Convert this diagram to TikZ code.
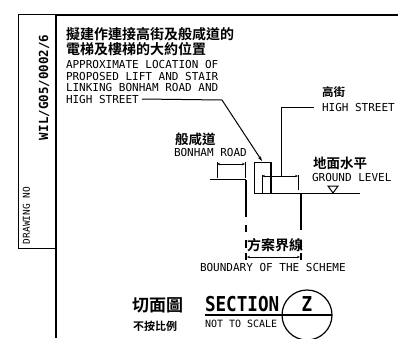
\documentclass[tikz,border=0pt]{standalone}
\usepackage{fontspec}
\setmainfont{DejaVu Sans Mono}
\newfontfamily\titlefont[FakeStretch=0.86]{DejaVu Sans Mono Bold}
\newfontfamily\cjk{Noto Sans CJK TC Bold}
\usetikzlibrary{positioning,arrows.meta}

\begin{document}
\begin{tikzpicture}[
        x=1pt, y=-1pt,
        every node/.style={inner sep=0pt, outer sep=0pt, black},
        latin/.style={anchor=west, font=\fontsize{11}{11}\selectfont},
        hanzi/.style={anchor=west, font=\cjk\fontsize{#1}{#1}\selectfont},
        hanzi/.default=14,
        thinline/.style={line width=1pt},
        frameline/.style={line width=2pt},
        wall/.style={line width=2.6pt},
        dimline/.style={line width=1pt, {Stealth[length=3pt,width=2.4pt]}-{Stealth[length=3pt,width=2.4pt]}}
    ]
        \useasboundingbox (0,0) rectangle (398,338);

        % sheet frame
        \coordinate (topleft) at (18,14.5);
        \coordinate (frametop) at (55.5,14.5);
        \coordinate (framebot) at (55.5,338);
        \coordinate (topright) at (398,14.5);
        \coordinate (boxbot) at (55.5,248);
        \coordinate (boxbotleft) at (18,248);
        \draw[frameline] (framebot) -- (frametop) -- (topright);
        \draw[thinline] (frametop) -- (topleft) -- (boxbotleft) -- (boxbot);
        \node[rotate=90, anchor=west, font=\fontsize{12.5}{12.5}\selectfont\bfseries] (drawingref) at (44,140) {WIL/G05/0002/6};
        \node[rotate=90, anchor=west, font=\fontsize{9.5}{9.5}\selectfont] (drawingno) at (26.5,244) {DRAWING NO};

        % note
        \node[hanzi] (noteA) at (66,34.5) {擬建作連接高街及般咸道的};
        \node[hanzi] (noteB) at (66,49.5) {電梯及樓梯的大約位置};
        \node[latin] (lineA) at (66,64) {APPROXIMATE LOCATION OF};
        \node[latin] (lineB) at (66,76) {PROPOSED LIFT AND STAIR};
        \node[latin] (lineC) at (66,87.5) {LINKING BONHAM ROAD AND};
        \node[latin] (lineD) at (66,99) {HIGH STREET};

        % lift box
        \coordinate (boxNW) at (254,162);
        \coordinate (boxNE) at (271,162);
        \coordinate (boxSW) at (254,193);
        \coordinate (boxSE) at (271,193);
        \draw[thinline] (boxSE) -- (boxNE) -- (boxNW) -- (boxSW);
        \draw[line width=1.8pt] (boxNE) -- (boxSE);

        % leader to the box
        \coordinate (bend) at (222,100);
        \coordinate (leadend) at (262,161);
        \draw[thinline, -{Stealth[length=5pt,width=3.4pt]}] (lineD.east) ++(3,0) -- (bend) -- (leadend);

        % ground
        \coordinate (groundL) at (210,179);
        \coordinate (groundM) at (246,179);
        \coordinate (groundR) at (360,193);
        \draw[thinline] (groundL) -- (groundM);
        \draw[thinline] (boxSW) -- (groundR);
        \coordinate (levelA) at (328,186);
        \coordinate (levelB) at (338,186);
        \coordinate (levelC) at (333,193);
        \draw[thinline] (levelA) -- (levelB) -- (levelC) -- cycle;

        % bonham road width
        \coordinate (bonhamA) at (217,164);
        \coordinate (bonhamB) at (245,164);
        \draw[dimline] (bonhamA) -- (bonhamB);
        \draw[thinline] (217,162) -- (217,178);
        \draw[thinline] (245,162) -- (245,178);

        % high street width
        \coordinate (streetA) at (262,176);
        \coordinate (streetB) at (298,176);
        \coordinate (streetC) at (281,176);
        \coordinate (streetD) at (281,107);
        \coordinate (streetE) at (314,107);
        \draw[dimline] (streetA) -- (streetB);
        \draw[thinline] (262,175) -- (262,193);
        \draw[thinline] (298,175) -- (298,190);
        \draw[thinline] (streetC) -- (streetD) -- (streetE);

        % scheme boundary
        \draw[wall] (246,180) -- (246,217);
        \draw[wall] (246,225) -- (246,232);
        \draw[wall] (246,240) -- (246,248);
        \draw[wall] (246,253) -- (246,260);
        \draw[wall] (301,193) -- (301,230);
        \draw[wall] (301,240) -- (301,249);
        \draw[wall] (301,253) -- (301,260);
        \coordinate (schemeA) at (247,257);
        \coordinate (schemeB) at (300,257);
        \draw[dimline] (schemeA) -- (schemeB);

        % labels
        \node[hanzi=11.5] (highcn) at (322,92) {高街};
        \node[latin] (highen) at (322,107) {HIGH STREET};
        \node[hanzi=13.5] (bonhamcn) at (175,139) {般咸道};
        \node[latin] (bonhamen) at (174,152.5) {BONHAM ROAD};
        \node[hanzi=13.5] (groundcn) at (313,163) {地面水平};
        \node[latin] (grounden) at (312,177) {GROUND LEVEL};
        \node[hanzi=14] (schemecn) at (247,245.5) {方案界線};
        \node[latin] (schemeen) at (200,267.5) {BOUNDARY OF THE SCHEME};

        % section title
        \node[hanzi=17] (titlecn) at (132,305.5) {切面圖};
        \node[hanzi=11] (scalecn) at (133,326) {不按比例};
        \node[latin, font=\titlefont\fontsize{20.5}{20.5}\selectfont] (titleen) at (205,304.5) {SECTION};
        \node[latin, font=\fontsize{10}{10}\selectfont] (scaleen) at (205,323.5) {NOT TO SCALE};
        \node[circle, draw, line width=1.2pt, minimum size=50pt] (bubble) at (307,315) {};
        \node[font=\titlefont\fontsize{20.5}{20.5}\selectfont] (bubblez) at (307,304.5) {Z};
        \coordinate (titleL) at (205,315);
        \draw[line width=1.2pt] (titleL) -- (bubble.east);
    \end{tikzpicture}
\end{document}
